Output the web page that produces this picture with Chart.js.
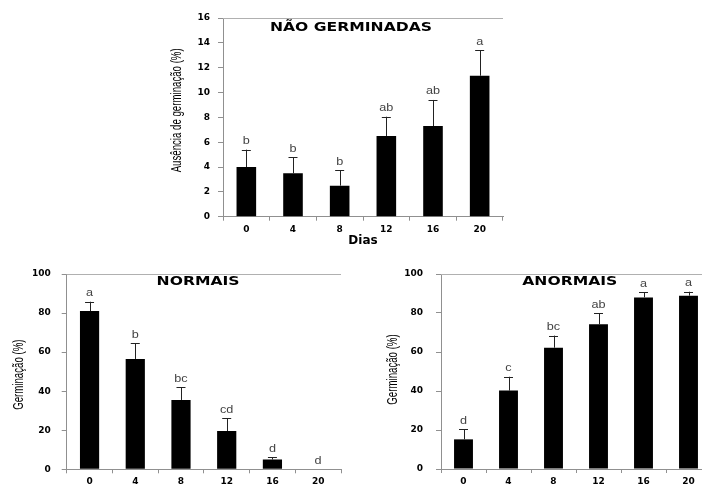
<!DOCTYPE html>
<html>
<head>
<meta charset="utf-8">
<script src="https://cdn.jsdelivr.net/npm/chart.js@4.4.0/dist/chart.umd.min.js"></script>
<style>
  html, body { margin: 0; padding: 0; background: #fff; }
  body { width: 702px; height: 484px; overflow: hidden; position: relative; }
  canvas { position: absolute; }
  #cNao { left: 150px; top: 0px; }
  #cNormais { left: 0px; top: 258px; }
  #cAnormais { left: 370px; top: 258px; }
</style>
</head>
<body>
<canvas id="cNao" width="360" height="252"></canvas>
<canvas id="cNormais" width="350" height="226"></canvas>
<canvas id="cAnormais" width="345" height="226"></canvas>
<script>
// dados
const dias = ["0", "4", "8", "12", "16", "20"];

const naoGermMedia = [4.0, 3.5, 2.5, 6.5, 7.3, 11.35];
const naoGermErro = [1.4, 1.3, 1.25, 1.55, 2.1, 2.05];
const naoGermLetras = ["b", "b", "b", "ab", "ab", "a"];

const normaisMedia = [81, 56.5, 35.5, 19.6, 5, 0];
const normaisErro = [4.8, 8.1, 6.5, 6.5, 1.1, 0];
const normaisLetras = ["a", "b", "bc", "cd", "d", "d"];

const anormaisMedia = [15.2, 40.2, 62.2, 74.2, 88, 88.9];
const anormaisErro = [5.2, 7.1, 6.2, 5.6, 2.6, 2.0];
const anormaisLetras = ["d", "c", "bc", "ab", "a", "a"];

const eixoNaoMax = 16, eixoNaoPasso = 2;
const eixoGermMax = 100, eixoGermPasso = 20;

const tickFont = { family: "DejaVu Sans", size: 9, weight: "bold" };

function stretchedText(ctx, text, x, y, sx, sy) {
  ctx.save();
  ctx.translate(x, y);
  ctx.scale(sx, sy || 1);
  ctx.fillText(text, 0, 0);
  ctx.restore();
}

// error bars, letters, top border, panel title and y title
const extrasPlugin = {
  id: "extras",
  afterDatasetsDraw(chart, args, opts) {
    const ctx = chart.ctx;
    const area = chart.chartArea;
    const y = chart.scales.y;
    ctx.save();
    // top border
    ctx.strokeStyle = "#b0b0b0";
    ctx.lineWidth = 1;
    ctx.beginPath();
    ctx.moveTo(area.left, Math.round(area.top) + 0.5);
    ctx.lineTo(area.right, Math.round(area.top) + 0.5);
    ctx.stroke();

    const meta = chart.getDatasetMeta(0);
    opts.media.forEach((m, i) => {
      const cx = meta.data[i].x;
      const yBar = y.getPixelForValue(m);
      const yErr = y.getPixelForValue(m + opts.erro[i]);
      if (opts.erro[i] > 0) {
        ctx.strokeStyle = "#222";
        ctx.beginPath();
        ctx.moveTo(Math.round(cx) + 0.5, yBar);
        ctx.lineTo(Math.round(cx) + 0.5, yErr);
        ctx.moveTo(cx - 4.5, Math.round(yErr) + 0.5);
        ctx.lineTo(cx + 4.5, Math.round(yErr) + 0.5);
        ctx.stroke();
      }
      ctx.fillStyle = "#444";
      ctx.font = "11px Liberation Sans, sans-serif";
      ctx.textAlign = "center";
      ctx.textBaseline = "bottom";
      stretchedText(ctx, opts.letras[i], cx, yErr - 3, 1.15);
    });

    ctx.fillStyle = "#000";
    ctx.font = "bold 12px DejaVu Sans";
    ctx.textAlign = "center";
    ctx.textBaseline = "middle";
    stretchedText(ctx, opts.titulo, area.left + area.width * opts.tx, area.top + opts.ty, 1.3);

    // y title, narrow
    ctx.save();
    ctx.translate(opts.yTitX, (area.top + area.bottom) / 2 + opts.yTitDy);
    ctx.rotate(-Math.PI / 2);
    ctx.font = "14px Liberation Sans, sans-serif";
    stretchedText(ctx, opts.yTitulo, 0, 0, 0.69);
    ctx.restore();
    ctx.restore();
  }
};

function makeChart(id, media, erro, letras, cfg) {
  return new Chart(document.getElementById(id), {
    type: "bar",
    data: {
      labels: dias,
      datasets: [{
        data: media,
        backgroundColor: "#000",
        borderWidth: 0,
        barPercentage: 0.42,
        categoryPercentage: 1.0,
      }],
    },
    options: {
      responsive: false,
      animation: false,
      layout: { padding: cfg.padding },
      plugins: {
        legend: { display: false },
        tooltip: { enabled: false },
        extras: {
          media, erro, letras,
          titulo: cfg.titulo, tx: cfg.tx, ty: cfg.ty,
          yTitulo: cfg.yTitulo, yTitX: cfg.yTitX, yTitDy: cfg.yTitDy,
        },
      },
      scales: {
        x: {
          offset: true,
          grid: { offset: true, drawOnChartArea: false, tickLength: 4, color: "#909090" },
          border: { color: "#909090" },
          ticks: { color: "#000", font: tickFont, padding: cfg.xPad, maxRotation: 0, autoSkip: false },
          title: cfg.xTitulo
            ? { display: true, text: cfg.xTitulo, color: "#000", font: { family: "DejaVu Sans", size: 12, weight: "bold" }, padding: { top: 0, bottom: 4 } }
            : { display: false },
          afterFit: (s) => { s.height = cfg.xHeight; },
        },
        y: {
          min: 0,
          max: cfg.yMax,
          ticks: { stepSize: cfg.yPasso, color: "#000", font: tickFont, padding: cfg.yPad },
          grid: { drawOnChartArea: false, tickLength: 5, color: "#909090" },
          border: { color: "#909090" },
          afterFit: (s) => {
            s.width = cfg.yWidth;
            s.paddingTop = 0;
            s.paddingBottom = 0;
          },
        },
      },
    },
    plugins: [extrasPlugin],
  });
}

makeChart("cNao", naoGermMedia, naoGermErro, naoGermLetras, {
  titulo: "NÃO GERMINADAS", tx: 0.457, ty: 10,
  padding: { top: 18, right: 7, left: 0, bottom: 0 },
  xHeight: 35.3, yWidth: 73, yPad: 8, xPad: 4,
  yTitX: 27, yTitDy: -7,
  yMax: eixoNaoMax, yPasso: eixoNaoPasso,
  yTitulo: "Ausência de germinação (%)", xTitulo: "Dias",
});

makeChart("cNormais", normaisMedia, normaisErro, normaisLetras, {
  titulo: "NORMAIS", tx: 0.479, ty: 8,
  padding: { top: 16, right: 9, left: 0, bottom: 0 },
  xHeight: 14.7, yWidth: 66.7, yPad: 11, xPad: 3,
  yTitX: 19, yTitDy: 3,
  yMax: eixoGermMax, yPasso: eixoGermPasso,
  yTitulo: "Germinação (%)",
});

makeChart("cAnormais", anormaisMedia, anormaisErro, anormaisLetras, {
  titulo: "ANORMAIS", tx: 0.477, ty: 8,
  padding: { top: 16, right: 4, left: 0, bottom: 0 },
  xHeight: 15, yWidth: 71, yPad: 13, xPad: 3,
  yTitX: 23, yTitDy: -2,
  yMax: eixoGermMax, yPasso: eixoGermPasso,
  yTitulo: "Germinação (%)",
});
</script>
</body>
</html>
